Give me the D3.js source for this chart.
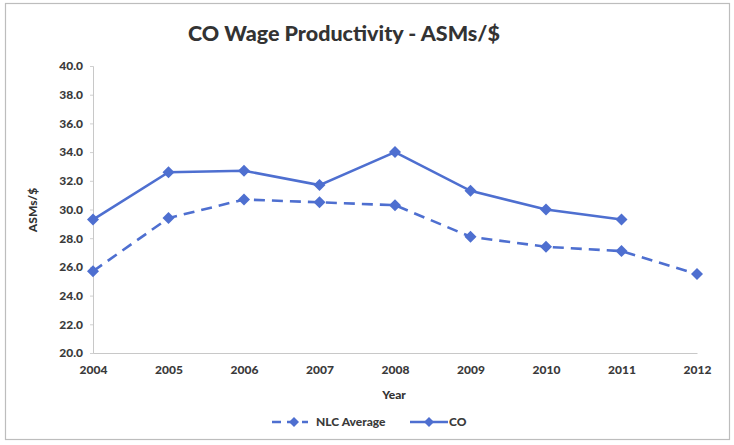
<!DOCTYPE html>
<html>
<head>
<meta charset="utf-8">
<script src="https://cdn.jsdelivr.net/npm/d3@7"></script>
<style>
  html, body { margin: 0; padding: 0; background: #fff; }
  svg { display: block; }
  text { font-family: Lato, "Open Sans", sans-serif; }
</style>
</head>
<body>
<svg id="chart" width="734" height="445"></svg>
<script>
const years = ["2004", "2005", "2006", "2007", "2008", "2009", "2010", "2011", "2012"];
const nlcAverage = [25.7, 29.4, 30.7, 30.5, 30.3, 28.1, 27.4, 27.1, 25.5];
const coValues = [29.3, 32.6, 32.7, 31.7, 34.0, 31.3, 30.0, 29.3, null];
const yTicks = [20, 22, 24, 26, 28, 30, 32, 34, 36, 38, 40];
const titleText = "CO Wage Productivity - ASMs/$";
const xTitle = "Year";
const yTitle = "ASMs/$";
const seriesNames = ["NLC Average", "CO"];

const svg = d3.select("#chart");
const plot = { left: 93, right: 697, top: 66, bottom: 353 };
const blue = "#4e6fd0";
const textColor = "#3a3a3a";

// outer frame
svg.append("rect").attr("x", 5.5).attr("y", 3.5).attr("width", 724).attr("height", 436)
  .attr("fill", "#fff").attr("stroke", "#bdbdbd").attr("stroke-width", 1.2);

const x = d3.scalePoint().domain(years).range([plot.left, plot.right]);
const y = d3.scaleLinear().domain([20, 40]).range([plot.bottom, plot.top]);

// title
svg.append("text").attr("x", 344).attr("y", 41).attr("text-anchor", "middle")
  .attr("font-size", 20.5).attr("font-weight", 900).attr("fill", "#333")
  .attr("textLength", 312).attr("lengthAdjust", "spacingAndGlyphs")
  .text(titleText);

// y axis
const yAxis = d3.axisLeft(y).tickValues(yTicks).tickFormat(d3.format(".1f")).tickSize(3).tickPadding(7);
const gy = svg.append("g").attr("transform", `translate(${plot.left},0)`).call(yAxis);
gy.select(".domain").attr("stroke", "#c8c8c8");
gy.selectAll(".tick line").attr("stroke", "#d0d0d0");
gy.selectAll(".tick text").attr("font-size", 12).attr("font-weight", 900).attr("fill", textColor)
  .attr("font-family", "Lato, sans-serif");

// x axis
const xAxis = d3.axisBottom(x).tickSize(0).tickPadding(12);
const gx = svg.append("g").attr("transform", `translate(0,${plot.bottom})`).call(xAxis);
gx.select(".domain").attr("stroke", "#c8c8c8");
gx.selectAll(".tick text").attr("font-size", 12).attr("font-weight", 900).attr("fill", textColor)
  .attr("font-family", "Lato, sans-serif");

// axis titles
svg.append("text").attr("x", (plot.left + plot.right) / 2 - 1).attr("y", 399).attr("text-anchor", "middle")
  .attr("font-size", 12).attr("font-weight", 900).attr("fill", "#333").text(xTitle);
svg.append("text").attr("transform", "translate(37,210) rotate(-90)").attr("text-anchor", "middle")
  .attr("font-size", 12).attr("font-weight", 900).attr("fill", "#333").text(yTitle);

const diamond = d3.symbol().type(d3.symbolSquare).size(72);

function drawSeries(values, dash) {
  const pts = years.map((yr, i) => ({ yr, v: values[i] })).filter(d => d.v != null);
  const line = d3.line().x(d => x(d.yr)).y(d => y(d.v));
  svg.append("path").datum(pts).attr("d", line).attr("fill", "none")
    .attr("stroke", blue).attr("stroke-width", 2.6)
    .attr("stroke-dasharray", dash ? "11,7" : null);
  svg.append("g").selectAll("path").data(pts).join("path")
    .attr("d", diamond).attr("transform", d => `translate(${x(d.yr)},${y(d.v)}) rotate(45)`)
    .attr("fill", blue);
}
drawSeries(nlcAverage, true);
drawSeries(coValues, false);

// legend
const legY = 422;
const leg = [
  { name: seriesNames[0], dash: true, x0: 272, x1: 308, tx: 316 },
  { name: seriesNames[1], dash: false, x0: 410, x1: 448, tx: 449 }
];
leg.forEach(l => {
  svg.append("line").attr("x1", l.x0).attr("x2", l.x1).attr("y1", legY).attr("y2", legY)
    .attr("stroke", blue).attr("stroke-width", 2.6).attr("stroke-dasharray", l.dash ? "9,6" : null);
  svg.append("path").attr("d", d3.symbol().type(d3.symbolSquare).size(50))
    .attr("transform", `translate(${(l.x0 + l.x1) / 2 + (l.dash ? 4 : 0)},${legY}) rotate(45)`).attr("fill", blue);
  svg.append("text").attr("x", l.tx).attr("y", legY + 4).attr("font-size", 12).attr("font-weight", 900)
    .attr("fill", textColor).text(l.name);
});
</script>
</body>
</html>
